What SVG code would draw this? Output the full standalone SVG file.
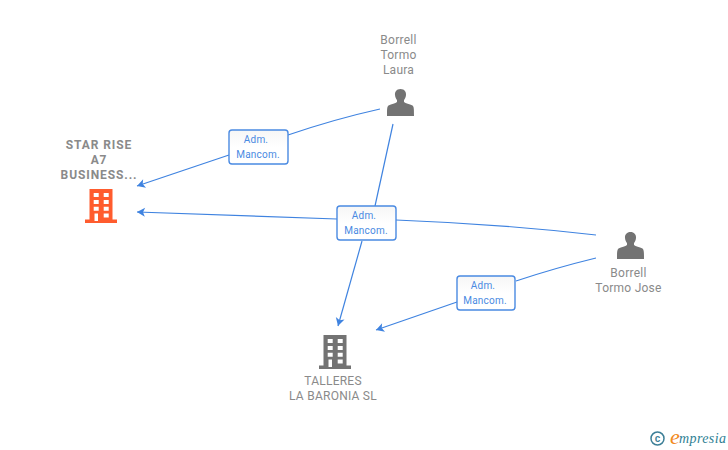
<svg xmlns="http://www.w3.org/2000/svg" width="728" height="450" viewBox="0 0 728 450">
<style>
.bg{fill:#fff}
.e{fill:none;stroke:#3f83e0;stroke-width:1.2}
.ah{fill:#3f83e0}
.box{fill:url(#bx);stroke:#4a8ae2;stroke-width:1.4}
.lb{font-family:"Roboto","Liberation Sans",sans-serif;font-size:10px;fill:#4a8ae2;text-anchor:middle;letter-spacing:.2px}
.t{font-family:"Roboto","Liberation Sans",sans-serif;font-size:12px;fill:#8a8a8a;text-anchor:middle;letter-spacing:.25px}
.b{font-weight:700;letter-spacing:.9px}
.p{fill:#737373}
</style>
<defs>
<linearGradient id="bx" x1="0" y1="0" x2="0" y2="1"><stop offset="0" stop-color="#f6f6f6"/><stop offset=".5" stop-color="#fff"/></linearGradient>
<marker id="a" viewBox="0 0 11 11" refX="9" refY="5.500" markerWidth="11" markerHeight="11" markerUnits="userSpaceOnUse" orient="auto-start-reverse"><path class="ah" d="M9 5.500L1 1L3 5.500L1 10Z"/></marker>
<g id="person"><path d="M0 -15.500C4 -15.500 5.800 -12.500 5.500 -9.500C5.300 -7 4.300 -5.500 3.500 -4.500L3.500 -2.500C5 -1 9 -.8 12 1C13.500 2 13.500 5 13.500 11.500L-13.500 11.500C-13.500 5 -13.500 2 -12 1C-9 -.8 -5 -1 -3.500 -2.500L-3.500 -4.500C-4.300 -5.500 -5.300 -7 -5.500 -9.500C-5.800 -12.500 -4 -15.500 0 -15.500Z"/></g>
<g id="bld"><path fill-rule="evenodd" d="M-11.500 -17H11.500V13.500H16V17H-16V13.500H-11.500ZM-7.300 -13V-9H-2.300V-13ZM2.700 -13V-9H7.700V-13ZM-7.300 -6V-2H-2.300V-6ZM2.700 -6V-2H7.700V-6ZM-7.300 .7V4.700H-2.300V.7ZM2.700 .7V4.700H7.700V.7ZM-6.500 7.500V15H-3V7.500ZM2.700 7.500V11.500H7.700V7.500Z"/></g>
</defs>
<rect class="bg" width="728" height="450"/>
<g id="connectors">
<path class="e" d="M380 109Q335 119 288 135"/>
<path class="e" marker-start="url(#a)" d="M137 186L229 155"/>
<path class="e" d="M393 124L375 206"/>
<path class="e" marker-start="url(#a)" d="M338 326L362 241"/>
<path class="e" d="M596 235Q500 224 396 220"/>
<path class="e" marker-start="url(#a)" d="M137 212Q240 216 337 219"/>
<path class="e" d="M596 258Q555 268 516 281"/>
<path class="e" marker-start="url(#a)" d="M376 330L457 302"/>
</g>
<g id="label-1"><rect class="box" x="229" y="130" width="59" height="34" rx="3"/><text class="lb" x="256" y="143">Adm.</text><text class="lb" x="258" y="158">Mancom.</text></g>
<g id="label-2"><rect class="box" x="337" y="206" width="59" height="34" rx="3"/><text class="lb" x="364" y="219">Adm.</text><text class="lb" x="366" y="234">Mancom.</text></g>
<g id="label-3"><rect class="box" x="457" y="276" width="58" height="34" rx="3"/><text class="lb" x="483" y="289">Adm.</text><text class="lb" x="485" y="304">Mancom.</text></g>
<g id="node-star-rise"><text class="t b" x="99" y="149">STAR RISE</text><text class="t b" x="99" y="164">A7</text><text class="t b" x="99" y="179">BUSINESS...</text><use href="#bld" x="101" y="206" fill="#ff5c2e"/></g>
<g id="node-laura"><text class="t" x="398.500" y="44">Borrell</text><text class="t" x="398.500" y="59">Tormo</text><text class="t" x="398.500" y="74">Laura</text><use href="#person" x="400.500" y="104.500" class="p"/></g>
<g id="node-jose"><text class="t" x="628.500" y="277">Borrell</text><text class="t" x="628.500" y="292">Tormo Jose</text><use href="#person" x="630.500" y="247.500" class="p"/></g>
<g id="node-talleres"><text class="t" x="333" y="385">TALLERES</text><text class="t" x="333" y="400">LA BARONIA SL</text><use href="#bld" x="335" y="352" class="p"/></g>
<g id="logo"><circle cx="657.500" cy="438.500" r="6.500" fill="none" stroke="#3d7f97" stroke-width="1.500"/><text x="657.500" y="442" font-family="Liberation Sans,sans-serif" font-size="10" font-weight="700" fill="#3d7f97" text-anchor="middle">c</text><text x="670" y="444" font-family="Liberation Serif,serif" font-style="italic" font-size="22" fill="#f28a1c">e</text><text x="679" y="443" font-family="Liberation Serif,serif" font-style="italic" font-size="14" fill="#2f7f94" letter-spacing=".4">mpresia</text></g>
</svg>
